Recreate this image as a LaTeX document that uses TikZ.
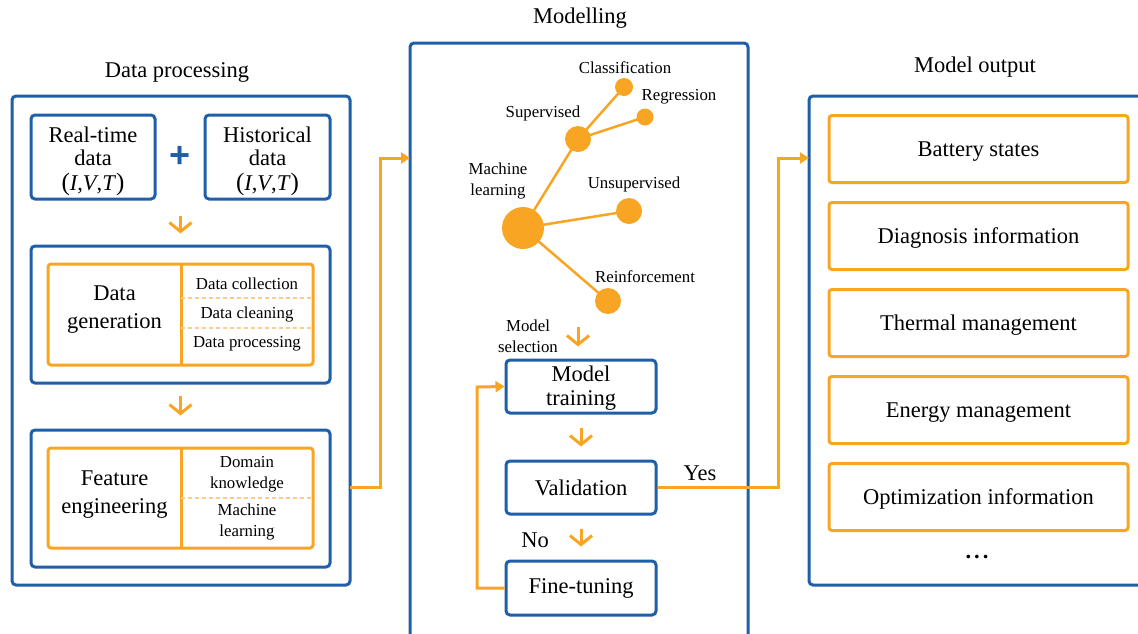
\documentclass[tikz,border=0pt]{standalone}
\usepackage{fontspec}
\setmainfont{Liberation Serif}
\newfontfamily\plusfont{Liberation Sans}
\usetikzlibrary{arrows.meta,calc}
\definecolor{myblue}{RGB}{31,94,168}
\definecolor{myorange}{RGB}{247,165,35}
\definecolor{lightorange}{RGB}{250,205,140}
\newcommand{\bigf}{\fontsize{22.5}{24}\selectfont}
\newcommand{\smf}{\fontsize{16.8}{21}\selectfont}
\tikzset{
  bluebox/.style={draw=myblue, line width=3pt, rounded corners=4pt, inner sep=0pt},
  orangebox/.style={draw=myorange, line width=3pt, rounded corners=3pt, inner sep=0pt},
  conn/.style={draw=myorange, line width=3pt, -{Triangle[length=9pt,width=11pt]}},
  downarr/.style={draw=myorange, line width=3pt, -{Straight Barb[length=9pt,width=22pt]}},
  divline/.style={draw=myorange, line width=3pt},
  dashline/.style={draw=lightorange, line width=1.5pt, dash pattern=on 4pt off 3pt},
  dot/.style={circle, fill=myorange, inner sep=0pt},
  treeline/.style={draw=myorange, line width=2.5pt},
  bigtxt/.style={font=\bigf, align=center, inner sep=0pt},
  smtxt/.style={font=\smf, align=center, inner sep=0pt},
  outbox/.style={orangebox, minimum width=299pt, minimum height=67pt, font=\bigf, text height=17pt, text depth=3pt},
  flowbox/.style={bluebox, minimum width=150pt, minimum height=53pt, font=\bigf, align=center},
}
\begin{document}
\begin{tikzpicture}[x=1pt,y=-1pt]
\useasboundingbox (0,0) rectangle (1138,633);
\clip (0,0) rectangle (1138,633);

% ---------- titles
\node[bigtxt] (t1) at (177,72) {Data processing};
\node[bigtxt] (t2) at (580,18) {Modelling};
\node[bigtxt] (t3) at (975,67) {Model output};

% ---------- Data processing column
\node[bluebox, minimum width=338pt, minimum height=489pt] (left) at (181,340.5) {};
\node[bluebox, minimum width=124pt, minimum height=84pt] (rt) at (93,157) {};
\node[bigtxt] (rttxt) at (93,161) {Real-time\\[-1pt]data\\[1pt]{\fontsize{25}{25}\selectfont(}\textit{I},\textit{V},\textit{T}{\fontsize{25}{25}\selectfont)}};
\node[bluebox, minimum width=125pt, minimum height=84pt] (hist) at (267.5,157) {};
\node[bigtxt] (histtxt) at (267.5,161) {Historical\\[-1pt]data\\[1pt]{\fontsize{25}{25}\selectfont(}\textit{I},\textit{V},\textit{T}{\fontsize{25}{25}\selectfont)}};
\node[text=myblue, font=\plusfont\bfseries\fontsize{36}{36}\selectfont, inner sep=0pt] (plus) at (180,157) {+};

\node[bluebox, minimum width=299pt, minimum height=137pt] (genb) at (180.5,314.5) {};
\node[orangebox, minimum width=265pt, minimum height=101pt] (gen) at (180.5,314.5) {};
\draw[divline] (181,264) -- (181,365);
\draw[dashline] (181,298) -- (313,298);
\draw[dashline] (181,328) -- (313,328);
\node[bigtxt] (gentxt) at (114.5,310) {Data\\[4pt]generation};
\node[smtxt] (dc1) at (247,284) {Data collection};
\node[smtxt] (dc2) at (247,314) {Data cleaning};
\node[smtxt] (dc3) at (247,344) {Data processing};

\node[bluebox, minimum width=299pt, minimum height=137pt] (feb) at (180.5,498.5) {};
\node[orangebox, minimum width=265pt, minimum height=100pt] (fe) at (180.5,498) {};
\draw[divline] (181,448) -- (181,548);
\draw[dashline] (181,498) -- (313,498);
\node[bigtxt] (fetxt) at (114.5,495) {Feature\\[4pt]engineering};
\node[smtxt] (dk) at (247,474) {Domain\\knowledge};
\node[smtxt] (mlr) at (247,522) {Machine\\learning};

\draw[downarr, shorten <=15pt, shorten >=11pt] (genb.north |- rt.south) -- (genb.north);
\draw[downarr, shorten <=11pt, shorten >=13pt] (genb.south) -- (feb.north);

% ---------- Modelling column
\node[bluebox, minimum width=338pt, minimum height=602pt] (mid) at (579,344) {};

\node[dot, minimum size=42pt] (ml) at (523,228) {};
\node[dot, minimum size=26pt] (sup) at (578,139) {};
\node[dot, minimum size=18pt] (cls) at (624,87) {};
\node[dot, minimum size=17pt] (reg) at (645,117) {};
\node[dot, minimum size=26pt] (uns) at (629,211) {};
\node[dot, minimum size=26pt] (rei) at (608,301) {};
\draw[treeline] (ml.center) -- (sup.center);
\draw[treeline] (sup.center) -- (cls.center);
\draw[treeline] (sup.center) -- (reg.center);
\draw[treeline] (ml.center) -- (uns.center);
\draw[treeline] (ml.center) -- (rei.center);

\node[smtxt] (lcls) at (625,68) {Classification};
\node[smtxt] (lreg) at (679,97) {Regression};
\node[smtxt] (lsup) at (543,113) {Supervised};
\node[smtxt] (lml) at (498,181) {Machine\\learning};
\node[smtxt] (luns) at (634,184) {Unsupervised};
\node[smtxt] (lrei) at (645,277) {Reinforcement};
\node[smtxt] (lsel) at (528,336) {Model\\selection};

\node[flowbox] (train) at (581,386.5) {};
\node[bigtxt] (traintxt) at (581,388) {Model\\[-0.5pt]training};
\node[flowbox] (val) at (581,487.5) {Validation};
\node[flowbox, minimum height=54pt] (fine) at (581,588) {Fine-tuning};

\coordinate (selc) at (578,327);
\draw[downarr, shorten >=12pt] (selc) -- (selc |- train.north);
\draw[downarr, shorten <=13pt, shorten >=13pt] (train.south) -- (val.north);
\draw[downarr, shorten <=13pt, shorten >=13pt] (val.south) -- (fine.north);

\node[bigtxt] (no) at (535,540) {No};
\node[bigtxt] (yes) at (700,473) {Yes};

\draw[conn] (fine.west) -- (477,588) -- (477,387) -- (train.west);

% ---------- Model output column
\node[bluebox, minimum width=341pt, minimum height=489pt] (right) at (979.5,340.5) {};
\node[outbox] (o1) at (978.5,149) {Battery states};
\node[outbox] (o2) at (978.5,236) {Diagnosis information};
\node[outbox] (o3) at (978.5,323) {Thermal management};
\node[outbox] (o4) at (978.5,410) {Energy management};
\node[outbox] (o5) at (978.5,497) {Optimization information};
\node[bigtxt] (dots) at (977,557) {\textbf{.\hspace{3pt}.\hspace{3pt}.}};

% ---------- long connectors
\coordinate (lout) at (350,487);
\coordinate (min) at (410,158);
\draw[conn] (lout) -- (380,487) -- (380,158) -- (min);
\coordinate (rin) at (809,158);
\draw[conn] (val.east) -- (778,487.5) -- (778,158) -- (rin);
\end{tikzpicture}
\end{document}
